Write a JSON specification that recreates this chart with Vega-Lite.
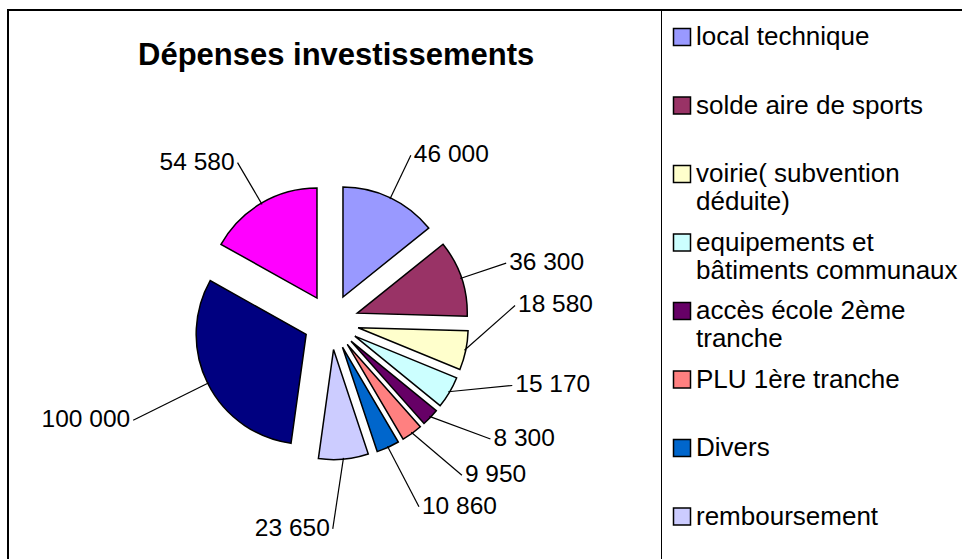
{
  "$schema": "https://vega.github.io/schema/vega-lite/v6.json",
  "width": 964,
  "height": 560,
  "autosize": {"type": "none"},
  "padding": {"left": 8, "top": 10, "right": -10, "bottom": -11},
  "background": "white",
  "title": {
    "text": "Dépenses investissements",
    "font": "Liberation Sans",
    "fontSize": 31,
    "fontWeight": "bold",
    "color": "black",
    "anchor": "start",
    "frame": "group",
    "dx": 130,
    "dy": 30,
    "baseline": "alphabetic",
    "offset": -56
  },
  "data": {
    "values": [
      {"order": 1, "cat": "local technique", "value": 46000},
      {"order": 2, "cat": "solde aire de sports", "value": 36300},
      {"order": 3, "cat": "voirie( subvention déduite)", "value": 18580},
      {"order": 4, "cat": "equipements et bâtiments communaux", "value": 15170},
      {"order": 5, "cat": "accès école 2ème tranche", "value": 8300},
      {"order": 6, "cat": "PLU 1ère tranche", "value": 9950},
      {"order": 7, "cat": "Divers", "value": 10860},
      {"order": 8, "cat": "remboursement", "value": 23650},
      {"order": 9, "cat": "travaux d'aménagement du centre bourg", "value": 100000},
      {"order": 10, "cat": "autres investissements", "value": 54580}
    ]
  },
  "transform": [
    {"window": [{"op": "sum", "field": "value", "as": "cum"}], "sort": [{"field": "order"}], "frame": [null, 0]},
    {"joinaggregate": [{"op": "sum", "field": "value", "as": "total"}]},
    {"calculate": "datum.cum / datum.total", "as": "t1"},
    {"calculate": "(datum.cum - datum.value) / datum.total", "as": "t0"},
    {"calculate": "PI * (datum.t0 + datum.t1)", "as": "mid"},
    {"calculate": "0.252 * sin(datum.mid)", "as": "ex"},
    {"calculate": "0.252 * cos(datum.mid)", "as": "ey"},
    {"calculate": "datum.mid > 1.6 && datum.mid < 3.3 ? datum.mid + (datum.mid - 2.44) * 0.3 - 0.1 : datum.mid", "as": "la"},
    {"calculate": "1.68 + 0.2 * max(0, -cos(datum.la)) + 0.6 * max(0, -sin(datum.la)) * max(0, -cos(datum.la))", "as": "lr"},
    {"calculate": "1.24 * sin(datum.mid)", "as": "lx1"},
    {"calculate": "1.24 * cos(datum.mid)", "as": "ly1"},
    {"calculate": "datum.lr * sin(datum.la)", "as": "lx2"},
    {"calculate": "datum.lr * cos(datum.la)", "as": "ly2"},
    {"calculate": "replace(format(datum.value, ','), ',', ' ')", "as": "lbl"}
  ],
  "layer": [
    {
      "mark": {"type": "arc", "outerRadius": 110, "stroke": "black", "strokeWidth": 1.5},
      "encoding": {
        "theta": {"field": "t0", "type": "quantitative", "scale": {"domain": [0, 1]}},
        "theta2": {"field": "t1"},
        "x": {"field": "ex", "type": "quantitative", "scale": {"domain": [-1, 1], "range": [213, 433]}, "axis": null},
        "y": {"field": "ey", "type": "quantitative", "scale": {"domain": [-1, 1], "range": [422, 202]}, "axis": null},
        "color": {
          "field": "cat",
          "type": "nominal",
          "scale": {
            "domain": ["local technique", "solde aire de sports", "voirie( subvention déduite)", "equipements et bâtiments communaux", "accès école 2ème tranche", "PLU 1ère tranche", "Divers", "remboursement", "travaux d'aménagement du centre bourg", "autres investissements"],
            "range": ["#9999FF", "#993366", "#FFFFCC", "#CCFFFF", "#660066", "#FF8080", "#0066CC", "#CCCCFF", "#000080", "#FF00FF"]
          },
          "legend": {
            "title": " ",
            "titleFontSize": 6,
            "titlePadding": 0,
            "orient": "none",
            "legendX": 653,
            "legendY": 0,
            "direction": "vertical",
            "strokeColor": "black",
            "padding": 8,
            "gridAlign": "all",
            "symbolType": "square",
            "symbolSize": 289,
            "symbolStrokeColor": "black",
            "symbolStrokeWidth": 1.5,
            "labelFont": "Liberation Sans",
            "labelFontSize": 26,
            "labelColor": "black",
            "labelLimit": 600,
            "labelOffset": 1,
            "rowPadding": 14.5,
            "labelExpr": "datum.label == 'voirie( subvention déduite)' ? ['voirie( subvention', 'déduite)'] : datum.label == 'equipements et bâtiments communaux' ? ['equipements et', 'bâtiments communaux'] : datum.label == 'accès école 2ème tranche' ? ['accès école 2ème', 'tranche'] : datum.label == 'autres investissements' ? ['autres', 'investissements'] : datum.label"
          }
        }
      }
    },
    {
      "mark": {"type": "rule", "color": "black", "strokeWidth": 1.2},
      "encoding": {
        "x": {"field": "lx1", "type": "quantitative", "scale": {"domain": [-1, 1], "range": [213, 433]}, "axis": null},
        "y": {"field": "ly1", "type": "quantitative", "scale": {"domain": [-1, 1], "range": [422, 202]}, "axis": null},
        "x2": {"field": "lx2"},
        "y2": {"field": "ly2"}
      }
    },
    {
      "transform": [{"filter": "sin(datum.la) >= 0.05"}],
      "mark": {"type": "text", "align": "left", "baseline": "middle", "dx": 3, "font": "Liberation Sans", "fontSize": 24.5, "color": "black"},
      "encoding": {
        "x": {"field": "lx2", "type": "quantitative", "scale": {"domain": [-1, 1], "range": [213, 433]}, "axis": null},
        "y": {"field": "ly2", "type": "quantitative", "scale": {"domain": [-1, 1], "range": [422, 202]}, "axis": null},
        "text": {"field": "lbl"}
      }
    },
    {
      "transform": [{"filter": "sin(datum.la) < 0.05"}],
      "mark": {"type": "text", "align": "right", "baseline": "middle", "dx": -3, "font": "Liberation Sans", "fontSize": 24.5, "color": "black"},
      "encoding": {
        "x": {"field": "lx2", "type": "quantitative", "scale": {"domain": [-1, 1], "range": [213, 433]}, "axis": null},
        "y": {"field": "ly2", "type": "quantitative", "scale": {"domain": [-1, 1], "range": [422, 202]}, "axis": null},
        "text": {"field": "lbl"}
      }
    }
  ],
  "config": {
    "view": {"stroke": "black", "strokeWidth": 2},
    "font": "Liberation Sans"
  }
}
